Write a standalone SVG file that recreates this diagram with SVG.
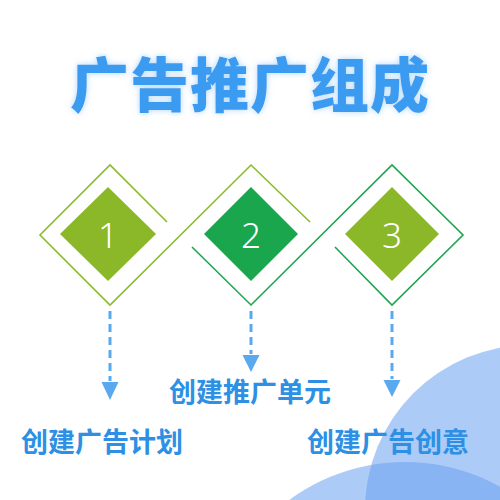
<svg xmlns="http://www.w3.org/2000/svg" width="500" height="500" viewBox="0 0 500 500">
<defs>
<style>
.frameY{fill:none;stroke:#8cba2e;stroke-width:1.6}
.frameG{fill:none;stroke:#1fa550;stroke-width:1.6}
.num{font-family:"Noto Sans","Open Sans",sans-serif;font-weight:300;font-size:35px;fill:#ffffff;text-anchor:middle}
.lbl{font-family:"Noto Sans CJK SC","Noto Sans",sans-serif;font-weight:700;font-size:27px;fill:#2e90e4}
.dash{fill:none;stroke:#5aa9ee;stroke-width:3;stroke-dasharray:8 5}
.head{fill:#5aa9ee}
.bub{fill:#6da2f1;fill-opacity:0.56}
</style>
<filter id="glow" x="-10%" y="-30%" width="120%" height="160%">
<feGaussianBlur in="SourceAlpha" stdDeviation="3"/>
<feFlood flood-color="#8cc4f7" flood-opacity="0.7"/>
<feComposite operator="in" in2="SourceGraphic"/>
<feComposite operator="in" in2="blur"/>
</filter>
<filter id="glow2" x="-10%" y="-30%" width="120%" height="160%">
<feGaussianBlur in="SourceAlpha" stdDeviation="3" result="b"/>
<feFlood flood-color="#9ccdf8" flood-opacity="0.8"/>
<feComposite operator="in" in2="b" result="g"/>
<feMerge><feMergeNode in="g"/><feMergeNode in="SourceGraphic"/></feMerge>
</filter>
</defs>
<rect width="500" height="500" fill="#ffffff"/>
<g id="bubbles">
<circle class="bub" cx="530" cy="510" r="165"/>
<circle class="bub" cx="405" cy="657" r="195"/>
</g>
<g id="title">
<text x="250" y="107" text-anchor="middle" filter="url(#glow2)" style="font-family:'Noto Sans CJK SC',sans-serif;font-weight:900;font-size:59px;fill:#3b9bf1;letter-spacing:1px">广告推广组成</text>
</g>
<g id="frames">
<polyline class="frameY" points="167,222 110,165 40,235 110,305 251,165 310,222"/>
<polyline class="frameG" points="192,247 251,305 392,165 463,235 392,305 335,247"/>
</g>
<g id="node1">
<polygon points="108,187 156,234 108,281 60,234" fill="#8bb828"/>
<text class="num" x="108" y="248">1</text>
</g>
<g id="node2">
<polygon points="251,187 298,234 251,281 204,234" fill="#1aa64c"/>
<text class="num" x="251" y="248">2</text>
</g>
<g id="node3">
<polygon points="392,187 439,234 392,281 345,234" fill="#8bb828"/>
<text class="num" x="392" y="248">3</text>
</g>
<g id="connectors">
<line class="dash" x1="110" y1="311" x2="110" y2="381"/>
<polygon class="head" points="101.5,382 118.5,382 110,400"/>
<line class="dash" x1="251" y1="311" x2="251" y2="354"/>
<polygon class="head" points="242.5,355 259.5,355 251,372"/>
<line class="dash" x1="392" y1="311" x2="392" y2="379"/>
<polygon class="head" points="383.5,380 400.5,380 392,397"/>
</g>
<g id="label1"><text class="lbl" x="21" y="452">创建广告计划</text></g>
<g id="label2"><text class="lbl" x="169" y="402">创建推广单元</text></g>
<g id="label3"><text class="lbl" x="307" y="452">创建广告创意</text></g>
</svg>
